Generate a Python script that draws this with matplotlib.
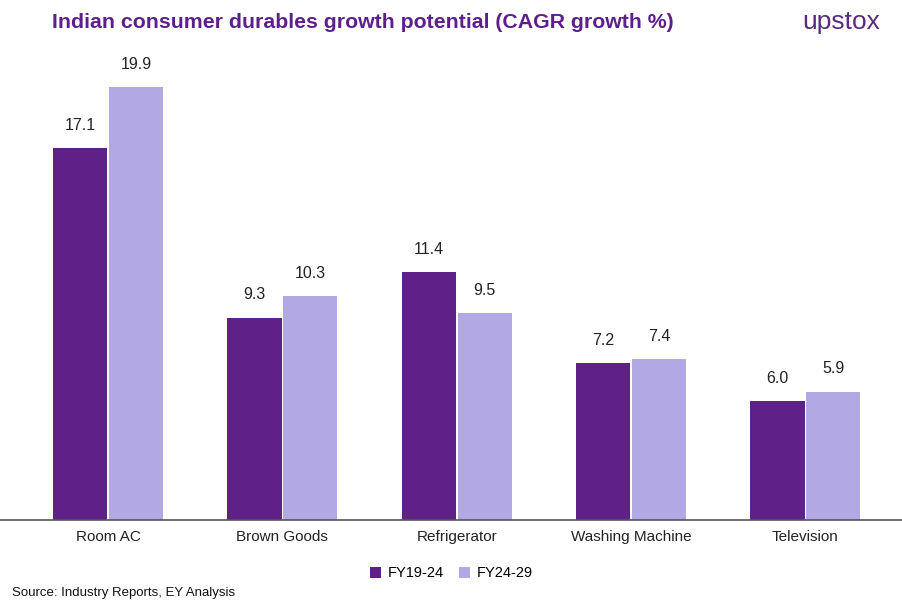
import numpy as np
import matplotlib
matplotlib.use("Agg")
import matplotlib.pyplot as plt

plt.rcParams['font.family'] = ['Liberation Sans', 'DejaVu Sans']

categories = ["Room AC", "Brown Goods", "Refrigerator", "Washing Machine", "Television"]
fy19_24 = [17.1, 9.3, 11.4, 7.2, 5.45]   # last bar is drawn shorter than its label in the source
fy24_29 = [19.9, 10.3, 9.5, 7.4, 5.9]
fy19_24_labels = ["17.1", "9.3", "11.4", "7.2", "6.0"]
fy24_29_labels = ["19.9", "10.3", "9.5", "7.4", "5.9"]

dark = "#5E2287"
light = "#B2A8E3"

fig = plt.figure(figsize=(9.03, 6.06), dpi=100)
ax = fig.add_axes([0, 0.1419, 1, 0.76])

x = np.arange(len(categories))
w = 0.31
b1 = ax.bar(x - 0.16, fy19_24, w, color=dark, label="FY19-24")
b2 = ax.bar(x + 0.16, fy24_29, w, color=light, label="FY24-29")

for bars, labs in ((b1, fy19_24_labels), (b2, fy24_29_labels)):
    for r, t in zip(bars, labs):
        ax.annotate(t, (r.get_x() + r.get_width() / 2, r.get_height()),
                    xytext=(0, 16.5), textcoords="offset points",
                    ha="center", va="center", fontsize=11.5, color="#222222")

ax.set_xlim(-0.62, 4.56)
ax.set_ylim(0, 21.18)
ax.set_xticks(x)
ax.set_xticklabels(categories, fontsize=11, color="#222222")
ax.tick_params(axis="x", length=0, pad=7)
ax.set_yticks([])
for s in ["top", "right", "left"]:
    ax.spines[s].set_visible(False)
ax.spines["bottom"].set_color("#555555")
ax.spines["bottom"].set_linewidth(1.2)

fig.text(0.058, 0.963, "Indian consumer durables growth potential (CAGR growth %)",
         fontsize=15.3, fontweight="bold", color="#5E1F8C", ha="left", va="center")
fig.text(0.975, 0.963, "upstox", fontsize=19, color="#5A2A82", ha="right", va="center")

fig.legend(handles=[b1, b2], loc="center", bbox_to_anchor=(0.5, 0.054), ncol=2,
           frameon=False, fontsize=10.5, handlelength=0.75, handleheight=0.75,
           handletextpad=0.5, columnspacing=1.0)
fig.text(0.013, 0.022, "Source: Industry Reports, EY Analysis", fontsize=9.5,
         color="#111111", ha="left", va="center")

fig.savefig("out.png", dpi=100)
